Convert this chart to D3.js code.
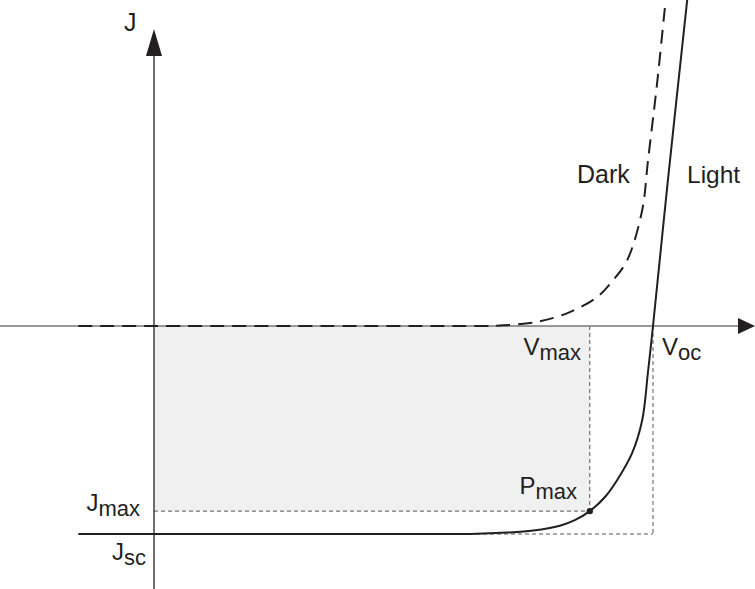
<!DOCTYPE html>
<html>
<head>
<meta charset="utf-8">
<script src="https://cdn.jsdelivr.net/npm/d3@7/dist/d3.min.js"></script>
<style>
  body { margin: 0; background: #fff; }
  text { font-family: "Liberation Sans", Arial, sans-serif; fill: #231f20; }
</style>
</head>
<body>
<svg width="755" height="589"></svg>
<script>
// dark curve (V in volts, J in mA/cm2)
var darkV = [-0.091, 0.350, 0.392, 0.420, 0.461, 0.500, 0.533, 0.552, 0.569, 0.587, 0.594, 0.605, 0.616];
var darkJ = [0, 0, 0, 0.1, 0.6, 2.0, 4.2, 6.6, 9.5, 16.7, 23.9, 35.1, 48];

// light curve
var lightV = [-0.091, 0.345, 0.380, 0.425, 0.456, 0.488, 0.506, 0.524, 0.542, 0.557, 0.575, 0.587, 0.594, 0.600, 0.618, 0.642];
var lightJ = [-30, -30, -30, -29.8, -29.5, -28.8, -28.0, -26.7, -24.7, -22.2, -18.3, -13.6, -6.6, 0, 21.1, 48];

// key points
var Voc = 0.6, Jsc = -30, Vmax = 0.524, Jmax = -26.7;

var svg = d3.select("svg");
var x = d3.scaleLinear().domain([0, 0.6]).range([154, 653]);
var y = d3.scaleLinear().domain([0, -30]).range([326, 534]);

var line = d3.line()
    .x(function (d) { return x(d[0]); })
    .y(function (d) { return y(d[1]); })
    .curve(d3.curveCatmullRom.alpha(0.5));

// shaded max power rectangle
svg.append("rect")
    .attr("x", x(0)).attr("y", y(0))
    .attr("width", x(Vmax) - x(0))
    .attr("height", y(Jmax) - y(0))
    .attr("fill", "#f0f0f0");

// dotted guides
var guides = [
    [0, Jmax, Vmax, Jmax],
    [Vmax, 0, Vmax, Jmax],
    [0, Jsc, Voc, Jsc],
    [Voc, 0, Voc, Jsc]
];
svg.selectAll("line.guide")
    .data(guides)
    .enter()
    .append("line")
    .attr("class", "guide")
    .attr("x1", function (d) { return x(d[0]); })
    .attr("y1", function (d) { return y(d[1]); })
    .attr("x2", function (d) { return x(d[2]); })
    .attr("y2", function (d) { return y(d[3]); })
    .attr("stroke", "#555")
    .attr("stroke-width", 1)
    .attr("stroke-dasharray", "4,3");

// axes
svg.append("line")
    .attr("x1", 0).attr("y1", y(0)).attr("x2", 740).attr("y2", y(0))
    .attr("stroke", "#777").attr("stroke-width", 1.5);
svg.append("path")
    .attr("d", "M755," + y(0) + "L738," + (y(0) - 8) + "L738," + (y(0) + 8) + "Z")
    .attr("fill", "#231f20");
svg.append("line")
    .attr("x1", x(0)).attr("y1", 589).attr("x2", x(0)).attr("y2", 50)
    .attr("stroke", "#231f20").attr("stroke-width", 1.3);
svg.append("path")
    .attr("d", "M" + x(0) + ",29L" + (x(0) - 8) + ",56L" + (x(0) + 8) + ",56Z")
    .attr("fill", "#231f20");

// curves
svg.append("path")
    .datum(d3.zip(darkV, darkJ))
    .attr("d", line)
    .attr("fill", "none")
    .attr("stroke", "#231f20")
    .attr("stroke-width", 2)
    .attr("stroke-dasharray", "14,8");

svg.append("path")
    .datum(d3.zip(lightV, lightJ))
    .attr("d", line)
    .attr("fill", "none")
    .attr("stroke", "#231f20")
    .attr("stroke-width", 2);

svg.append("circle")
    .attr("cx", x(Vmax)).attr("cy", y(Jmax)).attr("r", 3.2)
    .attr("fill", "#231f20");

// labels
function label(px, py, anchor, main, sub, size) {
    var t = svg.append("text")
        .attr("x", px).attr("y", py)
        .attr("text-anchor", anchor)
        .attr("font-size", size || 24);
    t.append("tspan").text(main);
    if (sub) t.append("tspan").attr("dy", 5).attr("font-size", 22).text(sub);
}

label(124, 31, "start", "J", null, 25);
label(577, 183, "start", "Dark", null, 25);
label(687, 183, "start", "Light", null, 24.5);
label(581, 355, "end", "V", "max");
label(662, 355, "start", "V", "oc");
label(577, 494, "end", "P", "max");
label(140, 511, "end", "J", "max");
label(146, 560, "end", "J", "sc");
</script>
</body>
</html>
